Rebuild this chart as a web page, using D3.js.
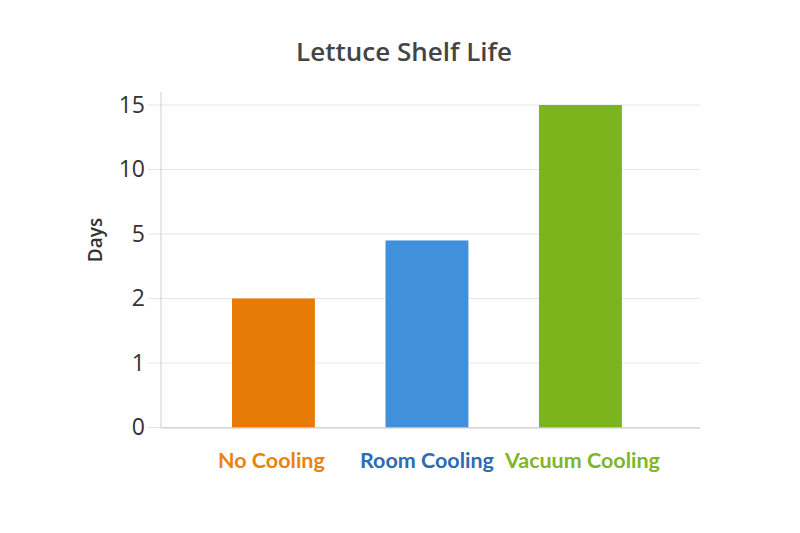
<!DOCTYPE html>
<html>
<head>
<meta charset="utf-8">
<script src="https://cdn.jsdelivr.net/npm/d3@7"></script>
<style>
  body { margin: 0; background: #fff; }
  text { font-family: "Open Sans", "Noto Sans", sans-serif; }
</style>
</head>
<body>
<div class="content"></div>
<script>
(function() {

  // Data
  var categories = ['No Cooling', 'Room Cooling', 'Vacuum Cooling'];
  var days = [2, 4.7, 15];
  var yTicks = [0, 1, 2, 5, 10, 15];

  // Design Variables
  var width = 800;
  var height = 533;
  var barColors = ['#e87b05', '#4190dc', '#7cb41d'];
  var labelColors = ['#e8830f', '#2d6cb2', '#80b52b'];

  var svg = d3.select(".content").append("svg")
      .attr("width", width)
      .attr("height", height);

  // Scales
  var x = d3.scaleBand()
      .domain(categories)
      .range([196.7, 657.2])
      .paddingInner(0.46)
      .paddingOuter(0.23);

  // uneven tick values sit at equal steps on the axis
  var y = d3.scaleLinear()
      .domain(yTicks)
      .range(yTicks.map(function(d, i) { return 427.5 - i * 64.5; }));

  // Title
  svg.append("text")
      .attr("x", 404)
      .attr("y", 61)
      .attr("text-anchor", "middle")
      .attr("font-size", 26)
      .attr("font-weight", 600)
      .attr("fill", "#444")
      .text("Lettuce Shelf Life");

  // Grid
  svg.append("g")
      .selectAll("line")
      .data(yTicks)
      .enter()
      .append("line")
      .attr("x1", 148)
      .attr("x2", 700)
      .attr("y1", function(d) { return y(d); })
      .attr("y2", function(d) { return y(d); })
      .attr("stroke", "#e6e6e6")
      .attr("stroke-width", 1);

  // Y axis
  var yAxis = svg.append("g")
      .attr("transform", "translate(161,0)")
      .call(d3.axisLeft(y).tickValues(yTicks).tickSize(0).tickPadding(16));
  yAxis.select(".domain").remove();
  yAxis.selectAll("text")
      .attr("font-size", 23)
      .attr("fill", "#333");

  svg.append("line")
      .attr("x1", 161).attr("x2", 161)
      .attr("y1", 92).attr("y2", y(0))
      .attr("stroke", "#cfcfcf");

  svg.append("text")
      .attr("transform", "translate(102,240) rotate(-90)")
      .attr("text-anchor", "middle")
      .attr("font-size", 19)
      .attr("font-weight", 600)
      .attr("fill", "#333")
      .text("Days");

  // Bars
  svg.append("g")
      .selectAll("rect")
      .data(days)
      .enter()
      .append("rect")
      .attr("x", function(d, i) { return x(categories[i]); })
      .attr("y", function(d) { return y(d); })
      .attr("width", x.bandwidth())
      .attr("height", function(d) { return y(0) - y(d); })
      .attr("fill", function(d, i) { return barColors[i]; });

  // Baseline
  svg.append("line")
      .attr("x1", 161).attr("x2", 700)
      .attr("y1", y(0) + 0.5).attr("y2", y(0) + 0.5)
      .attr("stroke", "#c8c8c8");

  // Category labels
  svg.append("g")
      .selectAll("text")
      .data(categories)
      .enter()
      .append("text")
      .attr("x", function(d, i) { return x(d) + x.bandwidth() / 2 + (i - 1) * 2; })
      .attr("y", 468)
      .attr("text-anchor", "middle")
      .style("font-family", "Lato, sans-serif")
      .attr("font-size", 21.5)
      .attr("font-weight", 700)
      .attr("fill", function(d, i) { return labelColors[i]; })
      .text(function(d) { return d; });

})();
</script>
</body>
</html>
